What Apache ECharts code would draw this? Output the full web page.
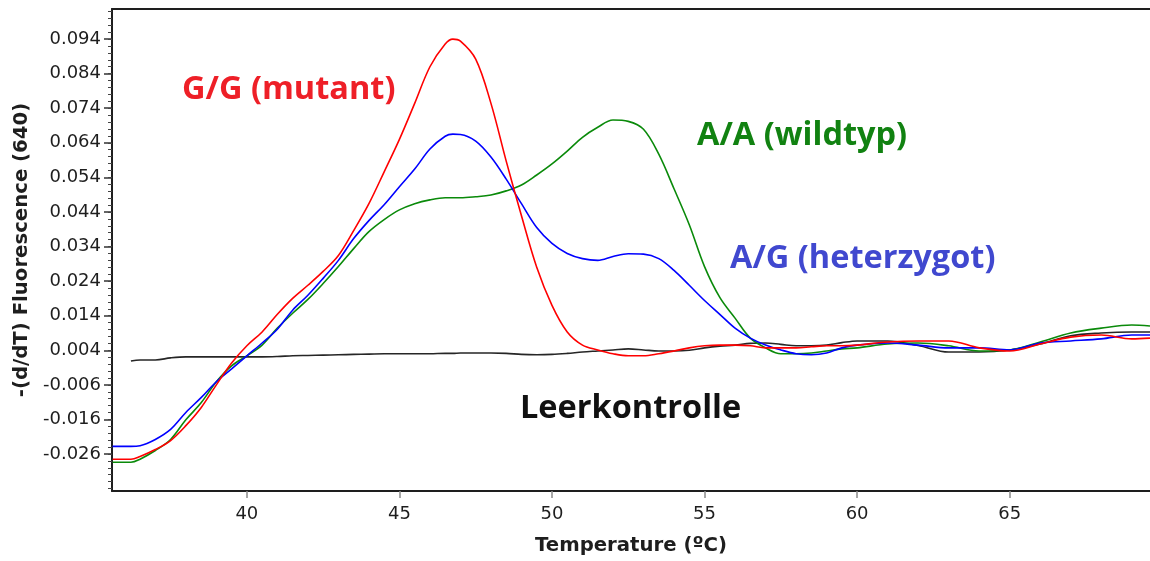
<!DOCTYPE html>
<html><head><meta charset="utf-8">
<script src="https://cdn.jsdelivr.net/npm/echarts@6/dist/echarts.min.js"></script>
<style>html,body{margin:0;padding:0;background:#fff}#c{width:1150px;height:561px}</style>
</head><body><div id="c"></div>
<script>
// Temperature grid (°C)
const temps = [35.6,36.2,36.5,37,37.5,38,38.5,39,39.5,40,40.5,41,41.5,42,42.5,43,43.5,44,44.5,45,45.5,46,46.5,46.75,47,47.5,48,48.5,49,49.5,50,50.5,51,51.5,52,52.5,53,53.5,54,54.5,55,55.5,56,56.5,57,57.5,58,58.5,59,59.5,60,61,62,63,64,65,66,67,68,69,69.6];

// G/G (mutant) - red
const ggMutant = [-0.0275,-0.0275,-0.0267,-0.0247,-0.0221,-0.0178,-0.0126,-0.0060,0.0003,0.0053,0.0093,0.0144,0.0190,0.0228,0.0268,0.0314,0.0386,0.0464,0.0556,0.0650,0.0754,0.0860,0.0926,0.0940,0.0934,0.0882,0.0754,0.0587,0.0429,0.0280,0.0170,0.0093,0.0055,0.0041,0.0030,0.0024,0.0024,0.0030,0.0038,0.0047,0.0053,0.0055,0.0055,0.0053,0.0047,0.0047,0.0047,0.0050,0.0053,0.0053,0.0055,0.0064,0.0067,0.0067,0.0047,0.0038,0.0058,0.0078,0.0084,0.0073,0.0075];

// A/G (heterzygot) - blue
const agHetero = [-0.0238,-0.0238,-0.0236,-0.0218,-0.0189,-0.0140,-0.0097,-0.0051,-0.0014,0.0024,0.0061,0.0101,0.0156,0.0199,0.0248,0.0300,0.0363,0.0415,0.0461,0.0513,0.0564,0.0622,0.0659,0.0665,0.0664,0.0645,0.0599,0.0535,0.0464,0.0395,0.0349,0.0320,0.0305,0.0300,0.0311,0.0319,0.0318,0.0305,0.0271,0.0228,0.0184,0.0144,0.0104,0.0075,0.0055,0.0041,0.0030,0.0027,0.0032,0.0047,0.0055,0.0061,0.0055,0.0047,0.0047,0.0041,0.0061,0.0067,0.0073,0.0084,0.0084];

// A/A (wildtyp) - green
const aaWild = [-0.0284,-0.0284,-0.0275,-0.0250,-0.0218,-0.0161,-0.0112,-0.0051,-0.0005,0.0024,0.0055,0.0104,0.0147,0.0187,0.0233,0.0282,0.0334,0.0383,0.0418,0.0446,0.0464,0.0475,0.0481,0.0481,0.0481,0.0484,0.0489,0.0501,0.0518,0.0547,0.0579,0.0616,0.0656,0.0685,0.0706,0.0702,0.0679,0.0607,0.0507,0.0403,0.0282,0.0193,0.0133,0.0075,0.0047,0.0030,0.0030,0.0032,0.0038,0.0044,0.0047,0.0058,0.0061,0.0053,0.0038,0.0041,0.0064,0.0090,0.0104,0.0113,0.0110];

// Leerkontrolle - black
const leer = [null,0.0009,0.0012,0.0012,0.0018,0.0021,0.0021,0.0021,0.0021,0.0021,0.0021,0.0022,0.0024,0.0025,0.0026,0.0027,0.0028,0.0029,0.0030,0.0030,0.0030,0.0030,0.0031,0.0031,0.0032,0.0032,0.0032,0.0031,0.0028,0.0027,0.0028,0.0031,0.0035,0.0038,0.0041,0.0044,0.0041,0.0038,0.0038,0.0040,0.0047,0.0052,0.0055,0.0060,0.0061,0.0057,0.0053,0.0053,0.0055,0.0062,0.0067,0.0067,0.0054,0.0035,0.0035,0.0041,0.0058,0.0082,0.0090,0.0093,0.0093];

const seriesNames = ['G/G (mutant)','A/G (heterzygot)','A/A (wildtyp)','Leerkontrolle'];
const xTickLabels = [40,45,50,55,60,65];
const yTickLabels = [-0.026,-0.016,-0.006,0.004,0.014,0.024,0.034,0.044,0.054,0.064,0.074,0.084,0.094];

const X_MIN = 35.58, X_MAX = 69.6, Y_MIN = -0.0367, Y_MAX = 0.1027;
const yMinorTicks = [];
for (let k = -18; k <= 51; k++) yMinorTicks.push(+(k * 0.002).toFixed(3));

const pairs = arr => temps.map((t, i) => [t, arr[i]]);
const axisLineStyle = { color: '#1e1e1e', width: 2 };
const tickFont = { fontFamily: 'DejaVu Sans', fontSize: 18, color: '#1e1e1e' };
const titleFont = { fontFamily: 'DejaVu Sans', fontWeight: 'bold', fontSize: 19.7, color: '#1e1e1e' };

const chart = echarts.init(document.getElementById('c'), null, { renderer: 'canvas' });
const mkSeries = (name, arr, color) => ({
  name, type: 'line', data: pairs(arr), xAxisIndex: 0, yAxisIndex: 0,
  showSymbol: false, symbol: 'none', smooth: 0.35, connectNulls: false,
  lineStyle: { color, width: 1.6 }, itemStyle: { color }, silent: true, animation: false
});
const annFont = 'bold 32.5px "Open Sans"';
const ann = (text, x, y, fill) => ({ type: 'text', x, y, silent: true,
  style: { text, fill, font: annFont, align: 'left', verticalAlign: 'middle', textAlign: 'left', textVerticalAlign: 'middle' } });
chart.setOption({
  animation: false,
  backgroundColor: '#ffffff',
  grid: { left: 112, right: 0, top: 9, bottom: 67, containLabel: false },
  xAxis: [
    { type: 'value', min: X_MIN, max: X_MAX, position: 'bottom',
      name: 'Temperature (ºC)', nameLocation: 'middle', nameGap: 45, nameTextStyle: titleFont,
      axisLine: { show: true, onZero: false, lineStyle: axisLineStyle },
      axisTick: { show: true, customValues: xTickLabels, length: 7, lineStyle: { color: '#8a8a8a', width: 1.5 } },
      axisLabel: Object.assign({ customValues: xTickLabels, margin: 14 }, tickFont),
      splitLine: { show: false } },
    { type: 'value', min: X_MIN, max: X_MAX, position: 'top',
      axisLine: { show: true, onZero: false, lineStyle: axisLineStyle },
      axisTick: { show: false }, axisLabel: { show: false }, splitLine: { show: false } }
  ],
  yAxis: [
    { type: 'value', min: Y_MIN, max: Y_MAX, position: 'left',
      name: '-(d/dT) Fluorescence (640)', nameLocation: 'middle', nameGap: 69, nameRotate: 90, nameTextStyle: titleFont,
      axisLine: { show: true, onZero: false, lineStyle: axisLineStyle },
      axisTick: { show: true, customValues: yTickLabels, length: 8, lineStyle: { color: '#333', width: 1.5 } },
      axisLabel: Object.assign({ customValues: yTickLabels, margin: 11, formatter: v => v.toFixed(3) }, tickFont),
      splitLine: { show: false } },
    { type: 'value', min: Y_MIN, max: Y_MAX, position: 'left',
      axisLine: { show: false },
      axisTick: { show: true, customValues: yMinorTicks, length: 4, lineStyle: { color: '#444', width: 1 } },
      axisLabel: { show: false }, splitLine: { show: false } }
  ],
  series: [
    mkSeries(seriesNames[3], leer, '#262626'),
    mkSeries(seriesNames[2], aaWild, '#0a8a0a'),
    mkSeries(seriesNames[1], agHetero, '#0000ff'),
    mkSeries(seriesNames[0], ggMutant, '#ff0000')
  ],
  graphic: [
    ann(seriesNames[0], 182, 90, '#ee1f27'),
    ann(seriesNames[2], 697, 136, '#118211'),
    ann(seriesNames[1], 730, 259, '#4048cf'),
    ann(seriesNames[3], 520, 409, '#111111')
  ]
});
</script>
</body></html>
